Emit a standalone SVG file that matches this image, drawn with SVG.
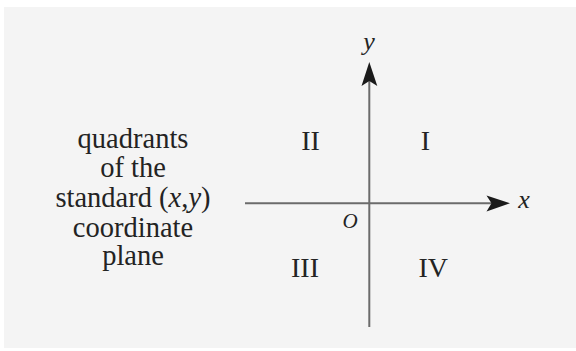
<svg xmlns="http://www.w3.org/2000/svg" width="576" height="351" viewBox="0 0 576 351">
<style>
.t{font-family:"Liberation Serif","Times New Roman",serif;fill:#232323;text-anchor:middle}
.lbl{font-size:28.5px}
.q{font-size:28px}
.it{font-style:italic}
.axis{stroke:#6b6b6b;stroke-width:2;fill:none}
.head{fill:#1a1a1a}
</style>
<rect x="0" y="0" width="576" height="351" fill="#ffffff"/>
<rect x="4" y="7" width="572" height="341" fill="#f4f4f4"/>
<g id="caption">
<text class="t lbl" x="133" y="148">quadrants</text>
<text class="t lbl" x="133" y="177">of the</text>
<text class="t lbl" x="133" y="207">standard (<tspan class="it">x</tspan>,<tspan class="it">y</tspan>)</text>
<text class="t lbl" x="133" y="236.5">coordinate</text>
<text class="t lbl" x="133" y="265">plane</text>
</g>
<g id="connectors">
<line class="axis" x1="245" y1="203.3" x2="495" y2="203.3"/>
<path class="head" d="M510,203.3 L486.5,195.5 L491.5,203.3 L486.5,211.5 Z"/>
<line class="axis" x1="369.3" y1="327" x2="369.3" y2="76"/>
<path class="head" d="M369.3,62 L361.5,86 L369.3,81 L377.3,86 Z"/>
</g>
<g id="labels">
<text class="t it" style="font-size:26px" x="369" y="50">y</text>
<text class="t it" style="font-size:26px" x="524" y="208">x</text>
<text class="t it" style="font-size:21px" x="350" y="227.5">O</text>
</g>
<g id="quadrant-I"><text class="t q" x="425.3" y="150">I</text></g>
<g id="quadrant-II"><text class="t q" x="310.5" y="150">II</text></g>
<g id="quadrant-III"><text class="t q" x="305" y="277">III</text></g>
<g id="quadrant-IV"><text class="t q" x="433.3" y="277">IV</text></g>
</svg>
